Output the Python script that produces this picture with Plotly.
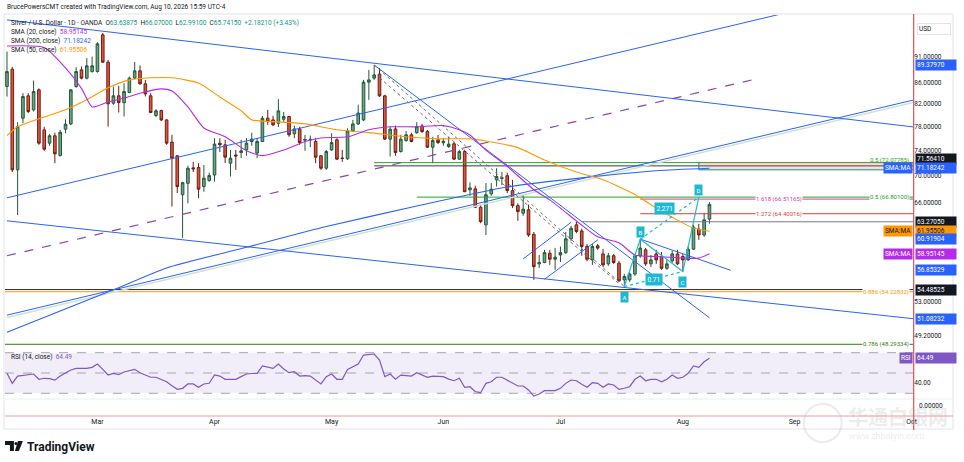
import numpy as np
import pandas as pd
import plotly.graph_objects as go

# daily bars, Feb 5 2026 .. Aug 10 2026 (one leading day + future days for the rays)
all_days = pd.bdate_range("2026-02-04", periods=176)
dates = all_days[1:134]

opens = [85.24, 88.56, 70.94, 79.50, 83.51, 80.97, 84.62, 77.47, 75.24, 76.47,
         73.22, 77.59, 78.50, 85.24, 88.43, 86.83, 88.10, 88.10, 95.53, 89.94,
         82.17, 83.51, 82.28, 84.12, 86.83, 88.24, 85.75, 83.51, 79.96, 80.85,
         79.20, 75.41, 73.17, 67.15, 68.87, 71.25, 71.30, 68.37, 69.29, 70.14,
         75.24, 74.96, 71.99, 73.30, 73.69, 74.13, 75.51, 73.61, 75.51, 79.50,
         79.20, 78.62, 79.30, 79.79, 76.80, 77.63, 75.74, 75.79, 75.51, 73.17,
         71.20, 74.13, 75.79, 72.79, 72.68, 77.30, 78.50, 79.20, 86.06, 86.83,
         87.60, 83.51, 75.91, 77.63, 73.86, 75.67, 76.63, 77.01, 78.15, 77.18,
         74.57, 75.79, 75.30, 74.68, 75.13, 72.63, 73.86, 67.88, 68.03, 65.33,
         62.84, 67.29, 69.39, 69.62, 70.02, 67.77, 65.56, 64.47, 64.95, 61.54,
         57.66, 57.83, 59.03, 58.26, 58.80, 59.11, 60.93, 62.84, 62.01, 59.91,
         58.17, 60.00, 58.94, 57.66, 58.70, 57.75, 55.66, 55.66, 56.38, 58.70,
         59.47, 57.66, 58.94, 58.60, 57.10, 58.04, 58.94, 58.60, 58.17, 59.56,
         62.25, 61.45, 63.64]
highs = [92.07, 89.00, 78.80, 84.00, 84.00, 86.37, 84.90, 78.00, 76.80, 77.00,
         77.47, 79.30, 84.75, 88.95, 89.10, 90.76, 91.06, 94.00, 95.90, 90.40,
         85.24, 85.37, 85.87, 87.14, 90.00, 89.30, 86.50, 84.00, 81.10, 81.00,
         79.30, 76.63, 73.30, 69.10, 71.60, 72.20, 72.00, 71.70, 70.50, 76.07,
         76.07, 75.79, 74.13, 74.13, 75.79, 76.10, 76.97, 76.10, 79.90, 80.97,
         79.90, 82.90, 80.60, 79.90, 78.20, 78.00, 76.60, 76.50, 76.07, 73.30,
         74.13, 76.91, 76.07, 74.13, 77.76, 79.20, 81.90, 86.50, 88.43, 89.38,
         88.80, 83.70, 78.00, 78.20, 76.63, 77.30, 76.97, 78.80, 78.50, 77.47,
         76.30, 76.63, 76.10, 76.30, 75.46, 74.13, 74.13, 69.00, 68.50, 65.70,
         68.90, 68.90, 71.20, 70.60, 70.50, 69.39, 65.90, 67.15, 65.70, 61.85,
         58.80, 59.47, 59.47, 59.73, 59.90, 61.85, 62.70, 63.25, 62.30, 60.25,
         60.25, 60.25, 59.60, 59.07, 58.94, 58.04, 56.40, 56.60, 58.94, 60.88,
         59.73, 58.80, 59.47, 59.20, 58.17, 59.34, 59.47, 58.94, 59.90, 62.84,
         62.98, 64.52, 66.07]
lows = [83.38, 70.60, 64.20, 78.62, 80.40, 80.67, 74.96, 73.97, 74.80, 71.99,
        73.06, 76.90, 78.30, 85.00, 86.60, 86.60, 87.90, 87.90, 89.80, 78.03,
        81.87, 80.49, 79.79, 84.00, 86.60, 85.60, 83.40, 80.40, 79.70, 79.00,
        74.96, 65.43, 67.40, 61.06, 65.90, 70.60, 66.65, 67.60, 69.10, 69.13,
        73.80, 71.99, 69.90, 70.94, 72.80, 73.17, 74.80, 72.80, 75.46, 78.33,
        78.15, 77.95, 78.85, 76.30, 76.10, 74.96, 74.00, 74.60, 71.99, 70.94,
        70.94, 73.97, 72.52, 72.20, 72.52, 77.13, 78.33, 79.00, 82.77, 86.50,
        83.30, 75.79, 73.06, 73.17, 73.69, 75.46, 75.40, 76.80, 76.97, 74.46,
        71.99, 75.10, 74.80, 74.46, 72.52, 72.52, 67.58, 67.00, 65.20, 63.06,
        61.45, 67.00, 68.37, 68.60, 67.40, 65.20, 63.40, 64.10, 61.20, 55.66,
        57.14, 57.75, 57.53, 56.90, 57.90, 58.94, 60.66, 61.70, 58.70, 58.00,
        57.53, 59.47, 57.27, 57.40, 57.66, 55.42, 54.85, 55.42, 56.16, 58.43,
        57.40, 57.27, 57.66, 56.90, 56.90, 57.79, 57.53, 56.69, 58.04, 59.47,
        60.79, 61.20, 62.99]
closes = [88.10, 70.94, 78.03, 83.38, 80.67, 84.30, 75.24, 74.25, 76.47, 73.49,
          77.07, 78.45, 84.62, 88.10, 86.83, 89.22, 89.22, 93.65, 89.94, 82.05,
          83.51, 82.28, 84.30, 86.83, 88.24, 85.75, 83.88, 80.49, 80.79, 79.20,
          75.24, 72.79, 68.37, 68.96, 71.20, 71.10, 67.98, 69.65, 70.05, 75.08,
          74.96, 72.95, 72.79, 73.14, 73.97, 75.24, 75.91, 75.51, 79.50, 78.90,
          78.33, 80.79, 79.80, 76.63, 77.63, 75.34, 75.84, 75.87, 72.95, 71.20,
          73.86, 75.34, 72.63, 72.75, 77.30, 78.50, 80.40, 86.06, 86.50, 87.46,
          83.51, 75.91, 77.59, 73.69, 75.91, 76.63, 75.51, 78.03, 77.18, 74.57,
          75.67, 75.34, 75.54, 75.08, 72.63, 73.86, 67.60, 68.17, 65.33, 63.29,
          67.15, 67.98, 69.90, 69.70, 67.77, 65.56, 64.70, 65.05, 61.45, 57.31,
          57.83, 59.11, 58.26, 58.52, 59.11, 60.93, 62.38, 61.92, 59.91, 58.26,
          59.91, 59.70, 57.53, 58.70, 57.83, 55.54, 56.07, 56.38, 58.70, 59.70,
          57.66, 58.17, 58.17, 57.10, 57.66, 58.94, 57.66, 58.17, 59.56, 62.52,
          61.45, 63.53, 65.74]

rsi = [49.7, 39.8, 47.0, 47.5, 48.0, 49.0, 43.8, 44.8, 44.5, 43.0,
       47.0, 50.0, 53.0, 54.6, 54.4, 54.6, 55.6, 58.9, 53.6, 48.0,
       49.7, 48.3, 51.0, 52.5, 53.6, 50.3, 48.0, 45.8, 45.8, 43.5,
       41.4, 37.5, 33.9, 34.9, 39.2, 39.2, 35.9, 39.2, 39.9, 48.0,
       47.0, 43.8, 43.5, 43.8, 46.4, 49.0, 49.5, 49.7, 56.9, 55.5,
       54.6, 58.9, 54.0, 50.3, 51.3, 47.0, 47.5, 47.0, 43.0, 39.2,
       46.4, 49.0, 43.8, 43.8, 53.6, 56.0, 58.9, 67.7, 68.5, 68.7,
       62.8, 46.4, 49.0, 43.8, 48.0, 47.5, 47.0, 50.3, 48.0, 45.8,
       47.0, 46.8, 46.4, 44.0, 42.4, 44.8, 35.9, 36.5, 31.6, 30.6,
       39.8, 41.4, 45.8, 45.8, 43.0, 40.4, 37.2, 37.2, 33.3, 27.3,
       29.3, 32.6, 32.4, 32.6, 34.9, 39.8, 43.1, 42.4, 39.0, 35.9,
       40.4, 39.8, 35.9, 39.2, 38.2, 33.9, 35.0, 36.5, 43.8, 47.0,
       42.4, 43.8, 43.8, 41.4, 43.8, 48.0, 44.8, 45.8, 49.7, 56.9,
       55.6, 61.1, 64.49]

# moving averages read at sample bars
sma20_bar = [0, 7, 11, 14, 16, 19, 22, 25, 29, 31, 34, 37, 41, 45, 48, 52, 56, 59,
             64, 68, 72, 77, 82, 85, 87, 90, 94, 99, 102, 108, 111, 115, 118, 122,
             127, 130, 132]
sma20_val = [93.2, 92.9, 88.8, 84.9, 81.5, 82.4, 83.1, 84.0, 84.8, 84.4, 81.5, 77.8,
             76.3, 74.0, 73.2, 74.1, 75.5, 76.1, 76.3, 77.5, 78.0, 78.0, 78.2, 77.5,
             76.6, 74.1, 71.5, 67.9, 66.4, 62.8, 61.2, 60.4, 58.8, 58.6, 58.4, 58.4,
             58.95]
sma50_bar = [0, 2, 6, 11, 15, 19, 23, 27, 31, 36, 40, 44, 46, 50, 56, 62, 68, 75, 81,
             87, 90, 96, 101, 107, 112, 118, 121, 126, 129, 132]
sma50_val = [76.5, 78.0, 79.4, 81.0, 82.8, 85.0, 86.5, 86.9, 86.9, 85.9, 83.3, 80.8,
             79.2, 78.9, 78.5, 77.5, 77.0, 76.3, 75.96, 75.96, 75.6, 74.5, 72.5, 70.6,
             69.4, 67.2, 65.7, 63.5, 62.4, 61.96]
sma200_bar = [0, 20, 30, 45, 60, 77, 94, 108, 122, 132]
sma200_val = [49.6, 54.45, 57.15, 59.8, 62.6, 65.5, 68.3, 69.7, 70.8, 71.18]

# trend lines: [start bar, start price, end bar, end price]
rising_top = [0, 66.7, 150, 101.3]
rising_dash = [0, 58.7, 140, 86.5]
rising_low = [0, 51.5, 171, 82.9]
falling_top = [0, 98.73, 171, 77.9]
falling_low = [0, 63.4, 171, 51.05]
falling_steep = [69, 89.38, 132, 51.2]
dotted_1 = [69, 89.38, 116, 54.85]
dotted_2 = [70, 86.9, 115, 55.2]
flag_upper = [97, 58.3, 106, 63.2]
flag_lower = [101, 55.74, 111, 60.79]
wedge_top = [119, 60.9, 136, 56.85]

# horizontal levels (start bar, price)
level_start = [69, 69, 77, 119, 119, 108, -1, -1, -1]
level_price = [72.07785, 71.5641, 66.801, 66.51165, 64.40016, 63.2705, 54.48525, 54.22832, 48.29334]
level_color = ["#21a621", "#363a45", "#21a621", "#d63aa0", "#e53935", "#787b86", "#2a2e39", "#ff9800", "#2e7d12"]

zone_bar = [130, 171]
zone_price = [70.94, 72.2]

# ABCD pattern points
abcd_bar = [116, 119, 127, 130]
abcd_price = [54.85, 60.88, 56.69, 66.8]

months = ["Mar", "Apr", "May", "Jun", "Jul", "Aug", "Sep", "Oct"]

W, H = 964, 462


def X(px):
    return px / W


def Y(py):
    return 1 - py / H


def day(b):
    return all_days[b + 1]


fig = go.Figure()

fig.add_trace(go.Candlestick(
    x=dates, open=opens, high=highs, low=lows, close=closes,
    increasing=dict(line=dict(color="#24573a", width=1), fillcolor="#6ba583"),
    decreasing=dict(line=dict(color="#6b1d12", width=1), fillcolor="#de5640"),
    whiskerwidth=0, showlegend=False, hoverinfo="skip"))


def seg(line, color, width=1.0, dash="solid"):
    b0, p0, b1, p1 = line
    fig.add_trace(go.Scatter(x=[day(b0), day(b1)], y=[p0, p1], mode="lines",
                             line=dict(color=color, width=width, dash=dash),
                             hoverinfo="skip", showlegend=False))


# horizontal levels
for s, p, c in zip(level_start, level_price, level_color):
    fig.add_trace(go.Scatter(x=[day(s), day(171)], y=[p, p], mode="lines",
                             line=dict(color=c, width=1), hoverinfo="skip", showlegend=False))

# pink zone
fig.add_trace(go.Scatter(
    x=[day(zone_bar[0]), day(zone_bar[1]), day(zone_bar[1]), day(zone_bar[0]), day(zone_bar[0])],
    y=[zone_price[0], zone_price[0], zone_price[1], zone_price[1], zone_price[0]],
    mode="lines", fill="toself", fillcolor="rgba(242,54,69,0.18)",
    line=dict(color="rgba(0,0,0,0)", width=0), hoverinfo="skip", showlegend=False))
fig.add_trace(go.Scatter(
    x=[day(zone_bar[0]), day(zone_bar[0]), day(zone_bar[1])],
    y=[zone_price[1], zone_price[0], zone_price[0]],
    mode="lines", line=dict(color="#089981", width=1), hoverinfo="skip", showlegend=False))

# trend lines
seg(rising_top, "#2962ff")
seg(rising_dash, "#8e44ad", 1.2, "dash")
b0, p0, b1, p1 = rising_low
seg([b0, p0 * 0.995, b1, p1 * 0.995], "#d3e2cf", 1.5)
seg(rising_low, "#2962ff")
seg(falling_top, "#2962ff")
seg(falling_low, "#2962ff")
seg(falling_steep, "#2962ff")
seg(dotted_1, "#6a6d78", 1, "dot")
seg(dotted_2, "#6a6d78", 1, "dot")
seg(flag_upper, "#2962ff")
seg(flag_lower, "#2962ff")
seg(wedge_top, "#2962ff")

# moving averages
for bars, vals, col in [(sma200_bar, sma200_val, "#2962ff"),
                        (sma50_bar, sma50_val, "#ff9800"),
                        (sma20_bar, sma20_val, "#b52bea")]:
    fig.add_trace(go.Scatter(x=[day(b) for b in bars], y=vals, mode="lines",
                             line=dict(color=col, width=1.1, shape="spline", smoothing=0.6),
                             hoverinfo="skip", showlegend=False))

# ABCD
cyan = "#1fb8d3"
fig.add_trace(go.Scatter(x=[day(b) for b in abcd_bar], y=abcd_price, mode="lines",
                         line=dict(color=cyan, width=1.2), hoverinfo="skip", showlegend=False))
for i, j in [(0, 2), (1, 3)]:
    fig.add_trace(go.Scatter(x=[day(abcd_bar[i]), day(abcd_bar[j])], y=[abcd_price[i], abcd_price[j]],
                             mode="lines", line=dict(color=cyan, width=1.2, dash="dot"),
                             hoverinfo="skip", showlegend=False))

# RSI
fig.add_trace(go.Scatter(x=dates, y=rsi, mode="lines", xaxis="x2", yaxis="y2",
                         line=dict(color="#7e57c2", width=1.2), hoverinfo="skip", showlegend=False))

month_starts = [all_days[all_days.month == m][0] for m in range(3, 11)]
x_range = [dates[0] - pd.Timedelta(hours=9), day(170) + pd.Timedelta(hours=7)]
main_lo, main_hi = 47.9, 99.8
rsi_lo, rsi_hi = 7.64, 73.65

tick_p = [91, 86, 82, 78, 74, 70, 66, 53, 49.2]
tick_t = ["91.00000", "86.00000", "82.00000", "78.00000", "74.00000", "70.00000",
          "66.00000", "53.00000", "49.20000"]

fig.update_layout(
    width=W, height=H, margin=dict(l=0, r=0, t=0, b=0),
    paper_bgcolor="white", plot_bgcolor="white",
    font=dict(family="Roboto, DejaVu Sans", color="#131722", size=7),
    xaxis=dict(domain=[X(5), X(918)], type="date", range=x_range,
               rangebreaks=[dict(bounds=["sat", "mon"])], rangeslider=dict(visible=False),
               showticklabels=False, showgrid=False, zeroline=False, anchor="y"),
    xaxis2=dict(domain=[X(5), X(918)], type="date", matches="x", anchor="y2",
                rangebreaks=[dict(bounds=["sat", "mon"])],
                tickvals=month_starts, ticktext=months, ticks="",
                tickfont=dict(size=7, color="#131722"), showgrid=False, zeroline=False),
    yaxis=dict(domain=[Y(348), Y(15)], type="log", range=[np.log10(main_lo), np.log10(main_hi)],
               side="right", tickvals=tick_p, ticktext=tick_t, ticks="",
               tickfont=dict(size=6.5, color="#131722"), showgrid=False, zeroline=False, anchor="x"),
    yaxis2=dict(domain=[Y(416), Y(349)], range=[rsi_lo, rsi_hi], side="right",
                tickvals=[40], ticktext=["40.00"], ticks="",
                tickfont=dict(size=6.5, color="#131722"), showgrid=False, zeroline=False, anchor="x2"),
)

# RSI band and guides
fig.add_shape(type="rect", xref="paper", yref="y2", x0=X(5), x1=X(918), y0=30, y1=70,
              fillcolor="rgba(126,87,194,0.1)", line=dict(width=0), layer="below")
for lvl in [70, 50, 30]:
    fig.add_shape(type="line", xref="paper", yref="y2", x0=X(5), x1=X(918), y0=lvl, y1=lvl,
                  line=dict(color="#a3a6af", width=1, dash="dash"), layer="below")

# frame, separators, crosshair
fig.add_shape(type="rect", xref="paper", yref="paper", x0=X(4), x1=X(958), y0=Y(429), y1=Y(14),
              line=dict(color="#e0e3eb", width=1))
fig.add_shape(type="line", xref="paper", yref="paper", x0=X(5), x1=X(958), y0=Y(399), y1=Y(399),
              line=dict(color="#eceef2", width=1))
fig.add_shape(type="line", xref="paper", yref="paper", x0=X(5), x1=X(958), y0=Y(416), y1=Y(416),
              line=dict(color="#ef9a9a", width=1))
fig.add_shape(type="line", xref="paper", yref="paper", x0=X(918.5), x1=X(918.5), y0=Y(430), y1=Y(14),
              line=dict(color="#d32f2f", width=1))


def note(x, y, text, size=6.5, color="#131722", xanchor="left", **kw):
    fig.add_annotation(x=x, y=y, xref="paper", yref="paper", text=text, showarrow=False,
                       xanchor=xanchor, yanchor="middle", font=dict(size=size, color=color), **kw)


note(X(5), Y(7), "BrucePowersCMT created with TradingView.com, Aug 10, 2026 15:59 UTC-4")
g = "#089981"
note(X(9), Y(22.7),
     f"Silver / U.S. Dollar · 1D · OANDA  O<span style='color:{g}'>63.63875</span>  "
     f"H<span style='color:{g}'>66.07000</span>  L<span style='color:{g}'>62.99100</span>  "
     f"C<span style='color:{g}'>65.74150</span>  <span style='color:{g}'>+2.18210 (+3.43%)</span>")
note(X(9), Y(31.7), "SMA (20, close)  <span style='color:#b52bea'>58.95145</span>")
note(X(9), Y(40.7), "SMA (200, close)  <span style='color:#2962ff'>71.18242</span>")
note(X(9), Y(50), "SMA (50, close)  <span style='color:#ff9800'>61.95506</span>")
note(X(9), Y(357), "RSI (14, close)  <span style='color:#7e57c2'>64.49</span>")

# price scale tags


def tag(price, text, bg, fg="white", dy=0, yref="y"):
    yv = np.log10(price) if yref == "y" else price
    fig.add_annotation(x=X(919.5), xref="paper", xanchor="left", y=yv, yref=yref, yshift=dy,
                       text=text, showarrow=False, bgcolor=bg, width=38, align="left",
                       font=dict(size=6.5, color=fg), borderpad=1)


def side_tag(price, text, bg, fg="white", yref="y"):
    yv = np.log10(price) if yref == "y" else price
    fig.add_annotation(x=X(918), xref="paper", xanchor="right", y=yv, yref=yref,
                       text=text, showarrow=False, bgcolor=bg,
                       font=dict(size=6.5, color=fg), borderpad=1)


fig.add_annotation(x=X(922), y=Y(23), xref="paper", yref="paper", xanchor="left", text="USD",
                   showarrow=False, bgcolor="white", bordercolor="#e0e3eb", borderwidth=1,
                   width=30, align="left", font=dict(size=6.5, color="#131722"))
tag(89.3797, "89.37970", "#2962ff")
tag(71.5641, "71.56410", "#131722", dy=7)
tag(71.18242, "71.18242", "#2962ff")
side_tag(71.18242, "SMA:MA", "#2962ff")
tag(63.2705, "63.27050", "#131722")
tag(61.95506, "61.95506", "#ff9800", fg="#131722")
side_tag(61.95506, "SMA:MA", "#ff9800", fg="#131722")
tag(60.91904, "60.91904", "#2962ff")
tag(58.95145, "58.95145", "#b52bea")
side_tag(58.95145, "SMA:MA", "#b52bea")
tag(56.85329, "56.85329", "#2962ff")
tag(54.48525, "54.48525", "#131722")
tag(51.08232, "51.08232", "#2962ff")
tag(64.49, "64.49", "#7e57c2", yref="y2")
side_tag(64.49, "RSI", "#7e57c2", yref="y2")
note(X(922), Y(406), "0.00000")

# fib level texts
fib_texts = [(72.07785, "0.5 (72.07785)", "#21a621", None, 3),
             (66.801, "0.5 (66.80100)", "#21a621", "white", 0),
             (54.22832, "0.886 (54.22832)", "#ff9800", "white", 0),
             (48.29334, "0.786 (48.29334)", "#2e7d12", "white", 0)]
for p, t, c, bg, dy in fib_texts:
    fig.add_annotation(x=X(915), xref="paper", xanchor="right", y=np.log10(p), yref="y", yshift=dy,
                       text=t, showarrow=False, font=dict(size=6, color=c),
                       bgcolor=bg if bg else "rgba(0,0,0,0)", borderpad=0)
for p, t, c in [(66.51165, "1.618 (66.51165)", "#d63aa0"), (64.40016, "1.272 (64.40016)", "#e53935")]:
    fig.add_annotation(x=day(145), xref="x", xanchor="center", y=np.log10(p), yref="y",
                       text=t, showarrow=False, font=dict(size=6, color=c), bgcolor="white", borderpad=0)

# ABCD labels
abcd_lbl = [(abcd_bar[0], 53.6, "A"), (abcd_bar[1], 61.9, "B"), (abcd_bar[2], 55.4, "C"),
            (abcd_bar[3], 67.9, "D")]
for b, p, t in abcd_lbl:
    fig.add_annotation(x=day(b), y=np.log10(p), xref="x", yref="y", text=t, showarrow=False,
                       bgcolor=cyan, font=dict(size=6, color="white"), borderpad=1.5)
fig.add_annotation(x=day(121) + pd.Timedelta(hours=12), y=np.log10(55.66), xref="x", yref="y",
                   text="0.71", showarrow=False, bgcolor=cyan, font=dict(size=6.5, color="white"),
                   borderpad=1.5)
fig.add_annotation(x=day(123) + pd.Timedelta(hours=14), y=np.log10(65.2), xref="x", yref="y",
                   text="2.271", showarrow=False, bgcolor=cyan, font=dict(size=6.5, color="white"),
                   borderpad=1.5)

# TradingView logo
fig.add_shape(type="path", xref="paper", yref="paper",
              path=f"M {X(5)} {Y(441)} L {X(14)} {Y(441)} L {X(14)} {Y(451)} L {X(10)} {Y(451)} "
                   f"L {X(10)} {Y(445)} L {X(5)} {Y(445)} Z",
              fillcolor="#131722", line=dict(width=0))
fig.add_shape(type="circle", xref="paper", yref="paper", x0=X(14.5), x1=X(17.5), y0=Y(445), y1=Y(442),
              fillcolor="#131722", line=dict(width=0))
fig.add_shape(type="path", xref="paper", yref="paper",
              path=f"M {X(18)} {Y(441)} L {X(23)} {Y(441)} L {X(19)} {Y(451)} L {X(15)} {Y(451)} Z",
              fillcolor="#131722", line=dict(width=0))
note(X(25), Y(446.5), "<b>TradingView</b>", size=12)

# watermark
fig.add_shape(type="circle", xref="paper", yref="paper", x0=X(808), x1=X(846), y0=Y(442), y1=Y(404),
              line=dict(color="rgba(190,190,190,0.3)", width=2))
note(X(850), Y(416), "<b>华通白银网</b>", size=20, color="rgba(190,190,190,0.3)",
     font_family="Noto Sans CJK SC")
note(X(851), Y(436), "www.zhbaiyin.com", size=9, color="rgba(190,190,190,0.3)")

# the page body has a default margin; remove it so the figure sits at the window's corner
fig.write_html("out.html", post_script="document.body.style.margin='0';",
               config={"displayModeBar": False})
